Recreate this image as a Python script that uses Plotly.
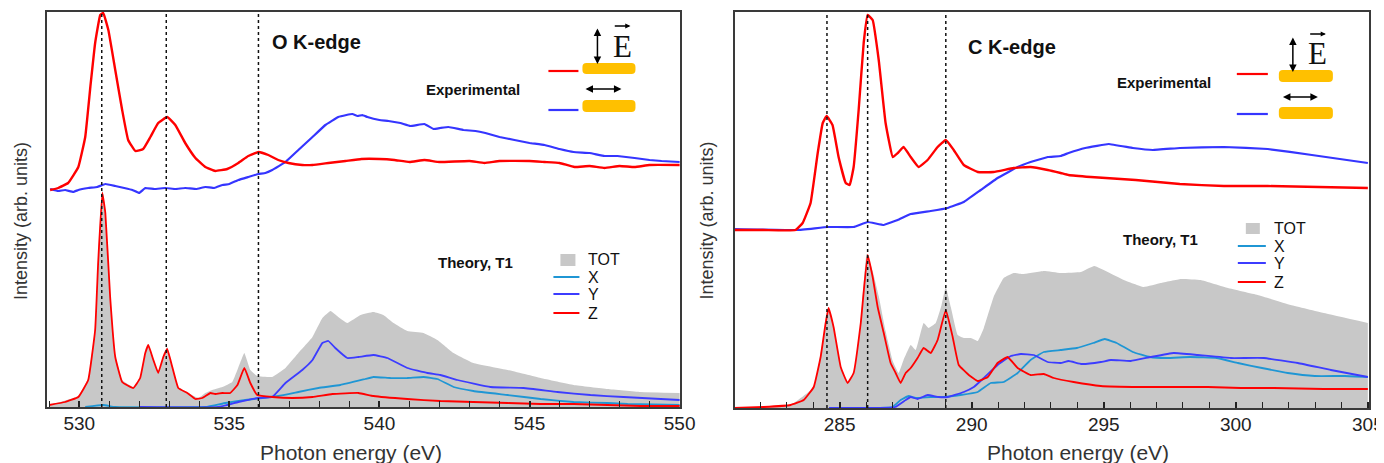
import plotly.graph_objects as go

# Layout helpers: target-picture pixel positions are converted to paper coordinates.
# The page keeps the default 8px body margin; the photographed page is 1400 css px wide.
PIC_W, PAGE_W = 1384, 1400
SX = PAGE_W / PIC_W
OFF = 8
W, H = 1384, 455
FONT = "Liberation Sans, Arial, sans-serif"
SERIF = "Liberation Serif, Times New Roman, serif"

# ---------------- O K-edge (left panel) ----------------
o_exp_red_x = [529.03, 529.3, 529.63, 529.97, 530.2, 530.37, 530.53, 530.7, 530.8, 530.97, 531.2, 531.43, 531.63,
               531.87, 532.13, 532.37, 532.63, 532.93, 533.2, 533.53, 533.87, 534.2, 534.53, 534.93, 535.3, 535.63,
               535.97, 536.3, 536.63, 536.97, 537.43, 537.77, 538.3, 538.87, 539.4, 540.0, 540.5, 541.0, 541.5,
               542.0, 543.0, 543.5, 544.0, 545.0, 545.5, 546.0, 546.5, 547.0, 547.5, 548.0, 548.5, 549.0, 550.0]
o_exp_red_y = [217, 219, 224, 240, 270, 320, 364, 392, 394, 377, 337, 297, 267, 256, 258, 270, 284, 290, 282, 264,
               249, 240, 236, 238, 244, 251, 255, 252, 247, 244, 242, 242, 244, 246, 248, 248, 247, 245, 247, 245,
               246, 244, 246, 246, 245, 244, 240, 241, 239, 241, 240, 242, 242]

o_exp_blue_x = [529.03, 529.3, 529.53, 529.8, 529.97, 530.3, 530.6, 530.87, 531.2, 531.5, 531.77, 532.0, 532.2,
                532.5, 532.87, 533.2, 533.53, 533.9, 534.2, 534.5, 534.77, 535.0, 535.3, 535.63, 535.97, 536.2,
                536.43, 536.87, 537.3, 537.77, 538.2, 538.63, 538.9, 539.1, 539.27, 539.43, 539.6, 540.0, 540.3,
                540.7, 541.03, 541.5, 541.8, 542.03, 542.3, 542.8, 543.2, 543.53, 544.0, 544.5, 545.0, 545.5,
                546.0, 546.47, 547.0, 547.5, 547.93, 548.5, 549.0, 549.4, 550.0]
o_exp_blue_y = [218, 216, 217, 215, 217, 219, 220, 223, 221, 219, 217, 214, 219, 218, 219, 218, 219, 218, 220, 219,
                222, 223, 227, 230, 233, 234, 237, 245, 257, 270, 282, 290, 292, 293, 291, 292, 290, 287, 286, 284,
                281, 283, 278, 279, 280, 277, 276, 274, 270, 267, 264, 262, 258, 255, 254, 251, 251, 249, 247, 246,
                245]

o_tot_x = [529.0, 529.97, 530.3, 530.53, 530.63, 530.77, 530.87, 531.03, 531.2, 531.43, 531.8, 532.03, 532.3,
           532.63, 532.93, 533.1, 533.3, 533.63, 533.97, 534.2, 534.43, 534.77, 535.1, 535.37, 535.5, 535.7,
           535.93, 536.43, 536.87, 537.3, 537.77, 538.1, 538.37, 538.63, 538.93, 539.37, 539.8, 540.13, 540.47,
           540.93, 541.47, 541.93, 542.47, 543.13, 544.27, 545.37, 546.47, 547.6, 548.7, 550.0]
o_tot_y = [2, 11, 29, 80, 150, 217, 197, 112, 52, 27, 20, 30, 63, 34, 60, 41, 20, 14, 9, 14, 17, 20, 25, 45, 54,
           37, 31, 30, 39, 54, 70, 89, 96, 90, 84, 92, 95, 92, 84, 76, 74, 67, 54, 44, 37, 29, 22, 18, 15, 14]

o_z_x = [529.0, 529.53, 529.97, 530.3, 530.53, 530.63, 530.77, 530.87, 531.03, 531.2, 531.43, 531.8, 532.03,
         532.2, 532.3, 532.47, 532.63, 532.8, 532.93, 533.1, 533.3, 533.6, 533.87, 534.1, 534.37, 534.53, 534.77,
         535.03, 535.27, 535.5, 535.7, 535.93, 536.43, 537.1, 537.77, 538.43, 539.3, 539.8, 540.93, 542.03,
         543.13, 544.27, 545.37, 546.47, 547.6, 548.7, 550.0]
o_z_y = [2, 5, 10, 27, 77, 144, 214, 194, 110, 50, 25, 19, 29, 54, 62, 47, 34, 50, 58, 40, 19, 14, 8, 9, 14, 13,
         14, 14, 22, 39, 24, 12, 10, 9, 10, 13, 14, 11, 8, 6, 5, 4, 3, 3, 2, 1, 1]

o_y_x = [532.0, 534.63, 535.3, 535.97, 536.43, 536.87, 537.43, 537.77, 538.1, 538.3, 538.53, 538.93, 539.3, 539.8,
         540.27, 540.93, 541.6, 542.03, 542.6, 543.7, 544.8, 545.93, 547.03, 548.13, 550.0]
o_y_y = [0, 0, 5, 9, 10, 24, 37, 47, 64, 66, 59, 49, 50, 52, 49, 39, 34, 32, 27, 20, 19, 15, 12, 10, 7]

o_x_x = [530.2, 530.8, 531.2, 534.2, 534.87, 535.53, 536.1, 536.63, 537.3, 537.97, 538.7, 539.53, 539.8, 540.37,
         540.93, 541.47, 541.93, 542.47, 543.13, 544.27, 545.37, 546.47, 547.6, 548.27, 550.0]
o_x_y = [0, 2, 0, 0, 4, 7, 9, 11, 15, 19, 22, 28, 30, 29, 29, 30, 28, 20, 16, 12, 8, 5, 4, 3, 2]

# ---------------- C K-edge (right panel) ----------------
c_exp_red_x = [281.0, 282.12, 283.33, 283.6, 283.9, 284.17, 284.36, 284.51, 284.73, 284.96, 285.23, 285.38, 285.53,
               285.72, 285.91, 286.06, 286.25, 286.48, 286.74, 287.01, 287.2, 287.42, 287.69, 287.99, 288.33,
               288.71, 289.02, 289.32, 289.7, 290.23, 290.83, 291.59, 292.23, 292.88, 293.37, 293.67, 294.51,
               296.21, 297.88, 299.55, 301.21, 305.0]
c_exp_red_y = [178, 178, 178, 185, 205, 255, 285, 292, 283, 251, 225, 223, 241, 298, 365, 393, 388, 348, 285, 251,
               255, 261, 251, 241, 248, 261, 268, 258, 243, 236, 236, 240, 241, 238, 235, 233, 231, 228, 224, 222,
               222, 220]

c_exp_blue_x = [281.0, 283.41, 284.55, 285.53, 286.06, 286.67, 287.2, 287.69, 288.45, 289.09, 289.7, 290.34,
                290.98, 291.74, 292.23, 292.88, 293.37, 293.67, 294.3, 295.19, 296.1, 296.86, 297.88, 299.55,
                301.21, 302.88, 305.0]
c_exp_blue_y = [179, 178, 181, 181, 186, 183, 188, 194, 197, 200, 206, 218, 230, 241, 246, 251, 252, 255, 260, 264,
                260, 258, 260, 261, 259, 253, 245]

c_tot_x = [281.0, 283.14, 284.02, 284.47, 284.58, 284.77, 285.04, 285.3, 285.53, 285.8, 286.02, 286.25, 286.48,
           286.74, 287.01, 287.23, 287.42, 287.69, 287.88, 288.18, 288.37, 288.64, 288.86, 289.02, 289.21, 289.47,
           289.7, 289.97, 290.23, 290.46, 290.83, 291.21, 291.59, 291.97, 292.73, 293.37, 294.13, 294.64, 295.15,
           295.76, 296.51, 297.16, 297.92, 298.67, 299.7, 300.83, 302.08, 303.33, 305.0]
c_tot_y = [0, 3, 21, 85, 101, 82, 42, 26, 35, 86, 154, 137, 112, 77, 47, 35, 48, 63, 58, 85, 80, 85, 103, 121, 101,
           73, 70, 70, 67, 80, 111, 130, 135, 134, 137, 135, 136, 142, 136, 128, 121, 125, 129, 128, 120, 113, 103,
           95, 85]

c_z_x = [281.0, 282.12, 283.14, 283.64, 284.02, 284.28, 284.47, 284.58, 284.77, 285.04, 285.3, 285.53, 285.8,
         286.06, 286.25, 286.44, 286.67, 286.93, 287.12, 287.31, 287.5, 287.69, 287.95, 288.18, 288.45, 288.71,
         289.02, 289.28, 289.51, 289.89, 290.23, 290.61, 290.98, 291.36, 291.74, 292.23, 292.73, 293.11, 293.86,
         294.89, 296.4, 297.65, 298.94, 300.19, 301.44, 303.33, 305.0]
c_z_y = [0, 1, 3, 8, 21, 51, 85, 100, 81, 41, 25, 35, 85, 153, 131, 101, 75, 45, 35, 25, 35, 40, 50, 60, 55, 68,
         98, 71, 43, 33, 27, 31, 45, 51, 40, 33, 34, 30, 26, 22, 21, 21, 21, 20, 20, 19, 19]

c_y_x = [284.6, 287.1, 287.5, 287.69, 287.95, 288.33, 288.75, 289.09, 289.7, 290.08, 290.46, 290.98, 291.48,
         291.86, 292.35, 292.88, 293.37, 293.67, 294.17, 294.89, 295.27, 296.02, 296.78, 297.65, 298.56, 299.81,
         301.06, 302.35, 303.6, 305.0]
c_y_y = [0, 1, 8, 11, 9, 13, 11, 11, 16, 21, 30, 43, 52, 54, 53, 46, 45, 47, 44, 46, 48, 47, 51, 55, 53, 50, 50,
         45, 38, 31]

c_x_x = [284.6, 287.0, 287.31, 287.61, 287.88, 288.45, 288.94, 289.58, 290.23, 290.72, 291.21, 291.74, 292.23,
         292.73, 293.37, 293.98, 294.6, 295.04, 295.49, 296.1, 296.75, 297.38, 298.26, 299.28, 300.08, 300.99,
         301.97, 302.99, 304.13, 305.0]
c_x_y = [0, 1, 8, 12, 10, 11, 11, 13, 16, 25, 26, 35, 48, 56, 58, 60, 65, 69, 65, 56, 51, 50, 51, 50, 45, 40, 35,
         32, 32, 31]

# axis settings and marker energies
O_RANGE = [528.93, 550.03]
C_RANGE = [281.02, 305.04]
O_MARKS = [530.75, 532.9, 535.97]
C_MARKS = [284.52, 286.06, 289.02]
O_TICK0, C_TICK0 = 530, 285
LEGEND_LABELS = ["TOT", "X", "Y", "Z"]

RED = "#ff0000"
BLUE_EXP = "#3535ff"
BLUE = "#3c3cff"
CYAN = "#1f96d4"
GRAY = "#c8c8c8"
ORANGE = "#ffc000"

fig = go.Figure()


def add_area(x, y, xa, ya):
    fig.add_trace(go.Scatter(x=x, y=y, mode="lines", fill="tozeroy", fillcolor=GRAY,
                             line=dict(width=0, color=GRAY, shape="spline", smoothing=0.3),
                             xaxis=xa, yaxis=ya, showlegend=False, hoverinfo="skip"))


def add_line(x, y, color, width, xa, ya, smooth=0.3):
    fig.add_trace(go.Scatter(x=x, y=y, mode="lines",
                             line=dict(color=color, width=width, shape="spline", smoothing=smooth),
                             xaxis=xa, yaxis=ya, showlegend=False, hoverinfo="skip"))


panels = [
    ("x", "y", o_tot_x, o_tot_y, o_x_x, o_x_y, o_y_x, o_y_y, o_z_x, o_z_y,
     o_exp_blue_x, o_exp_blue_y, o_exp_red_x, o_exp_red_y),
    ("x2", "y2", c_tot_x, c_tot_y, c_x_x, c_x_y, c_y_x, c_y_y, c_z_x, c_z_y,
     c_exp_blue_x, c_exp_blue_y, c_exp_red_x, c_exp_red_y),
]
for (xa, ya, tx, ty, xx, xy, yx, yy, zx, zy, bx, by, rx, ry) in panels:
    add_area(tx, ty, xa, ya)
    add_line(xx, xy, CYAN, 1.8, xa, ya)
    add_line(yx, yy, BLUE, 1.8, xa, ya)
    add_line(zx, zy, RED, 1.8, xa, ya)
    add_line(bx, by, BLUE_EXP, 2.2, xa, ya, smooth=0.15)
    add_line(rx, ry, RED, 2.4, xa, ya)


# picture-pixel -> paper coordinates
def px(v):
    return (v * SX - OFF) / W


def py(v):
    return 1 - (v - OFF) / H


def txt(s, x, y, size, bold=False, xanchor="center", color="#111", family=FONT, angle=0):
    return dict(text=("<b>%s</b>" % s) if bold else s, x=px(x), y=py(y), xref="paper", yref="paper",
                showarrow=False, xanchor=xanchor, yanchor="middle", textangle=angle,
                font=dict(family=family, size=size, color=color))


def arrow(x1, y1, x0, y0, both=False, size=1.0, width=1.5):
    return dict(x=px(x1), y=py(y1), xref="paper", yref="paper", ax=(x0 - x1) * SX, ay=y0 - y1,
                text="", showarrow=True, arrowhead=2, arrowsize=size, arrowwidth=width, arrowcolor="black",
                arrowside="end+start" if both else "end", standoff=0, startstandoff=0)


def hseg(x0, x1, y, color, width=2.2):
    return dict(type="line", xref="paper", yref="paper", x0=px(x0), x1=px(x1), y0=py(y), y1=py(y),
                line=dict(color=color, width=width), layer="above")


def rrect(x0, y0, x1, y1, r, color):
    pts = (f"M {px(x0 + r)},{py(y0)} L {px(x1 - r)},{py(y0)} Q {px(x1)},{py(y0)} {px(x1)},{py(y0 + r)} "
           f"L {px(x1)},{py(y1 - r)} Q {px(x1)},{py(y1)} {px(x1 - r)},{py(y1)} "
           f"L {px(x0 + r)},{py(y1)} Q {px(x0)},{py(y1)} {px(x0)},{py(y1 - r)} "
           f"L {px(x0)},{py(y0 + r)} Q {px(x0)},{py(y0)} {px(x0 + r)},{py(y0)} Z")
    return dict(type="path", xref="paper", yref="paper", path=pts, fillcolor=color,
                line=dict(width=0), layer="above")


shapes = []
annotations = []

# dotted guide lines
for v in O_MARKS:
    shapes.append(dict(type="line", xref="x", yref="y domain", x0=v, x1=v, y0=0, y1=1,
                       line=dict(color="#111", width=1.5, dash="dot"), layer="above"))
for v in C_MARKS:
    shapes.append(dict(type="line", xref="x2", yref="y2 domain", x0=v, x1=v, y0=0, y1=1,
                       line=dict(color="#111", width=1.5, dash="dot"), layer="above"))

# per-panel decorations (picture-pixel layout positions)
deco = [
    dict(title="O K-edge", tx=316, ty=42, exp=(473, 89), theo=(475, 262),
         lx0=548, lx1=578, ry=71, by=110, bar_x=(582, 635), bar1=(63, 74), bar2=(100, 112),
         varrow=(597, 27, 64), E=(622, 46), Earrow=(613, 630, 26), harrow=(584, 621, 89),
         leg_sq=(560, 575, 254, 266), leg_line=(553, 579), leg_tx=586, leg_y=[259, 277, 294, 313],
         ytitle=(21, 221), xtitle=(351, 452)),
    dict(title="C K-edge", tx=1011, ty=47, exp=(1163, 83), theo=(1160, 240),
         lx0=1236, lx1=1267, ry=74, by=114, bar_x=(1278, 1332), bar1=(70, 82), bar2=(107, 119),
         varrow=(1292, 36, 72), E=(1317, 54), Earrow=(1308, 1325, 34), harrow=(1281, 1317, 97),
         leg_sq=(1245, 1259, 223, 234), leg_line=(1237, 1265), leg_tx=1271, leg_y=[228, 246, 263, 282],
         ytitle=(706, 221), xtitle=(1077, 452)),
]

for d in deco:
    annotations.append(txt(d["title"], d["tx"], d["ty"], 20, bold=True))
    annotations.append(txt("Experimental", d["exp"][0], d["exp"][1], 15, bold=True))
    annotations.append(txt("Theory, T1", d["theo"][0], d["theo"][1], 15, bold=True))
    shapes.append(hseg(d["lx0"], d["lx1"], d["ry"], RED))
    shapes.append(hseg(d["lx0"], d["lx1"], d["by"], BLUE_EXP))
    shapes.append(rrect(d["bar_x"][0], d["bar1"][0], d["bar_x"][1], d["bar1"][1], 4, ORANGE))
    shapes.append(rrect(d["bar_x"][0], d["bar2"][0], d["bar_x"][1], d["bar2"][1], 4, ORANGE))
    vx, vy0, vy1 = d["varrow"]
    annotations.append(arrow(vx, vy1, vx, vy0, both=True, size=1.0))
    hx0, hx1, hy = d["harrow"]
    annotations.append(arrow(hx1, hy, hx0, hy, both=True, size=1.0))
    annotations.append(txt("E", d["E"][0], d["E"][1], 31, family=SERIF, color="#111"))
    ex0, ex1, ey = d["Earrow"]
    annotations.append(arrow(ex1, ey, ex0, ey, size=0.8, width=1.3))
    # theory legend
    sx0, sx1, sy0, sy1 = d["leg_sq"]
    shapes.append(dict(type="rect", xref="paper", yref="paper", x0=px(sx0), x1=px(sx1), y0=py(sy1), y1=py(sy0),
                       fillcolor=GRAY, line=dict(width=0), layer="above"))
    for col, yy in zip([CYAN, BLUE, RED], d["leg_y"][1:]):
        shapes.append(hseg(d["leg_line"][0], d["leg_line"][1], yy, col, width=2))
    for lab, yy in zip(LEGEND_LABELS, d["leg_y"]):
        annotations.append(txt(lab, d["leg_tx"], yy, 16, xanchor="left", color="#111"))
    annotations.append(txt("Intensity (arb. units)", d["ytitle"][0], d["ytitle"][1], 18, angle=-90, color="#333"))
    annotations.append(txt("Photon energy (eV)", d["xtitle"][0], d["xtitle"][1], 21, color="#333"))

axis_common = dict(showline=True, linecolor="#3a3a3a", linewidth=1.5, mirror=True, showgrid=False,
                   zeroline=False, fixedrange=True)
xcommon = dict(dtick=5, ticks="inside", ticklen=6, tickwidth=1.5, tickcolor="#222",
               tickfont=dict(family=FONT, size=19, color="#222"), ticklabelstandoff=-2)

fig.update_layout(
    width=W, height=H, margin=dict(l=0, r=0, t=0, b=0),
    paper_bgcolor="white", plot_bgcolor="white", showlegend=False,
    xaxis=dict(domain=[px(47), px(680)], range=O_RANGE, tick0=O_TICK0, anchor="y",
               minor=dict(dtick=1, tick0=O_TICK0, ticks="inside", ticklen=6, tickwidth=1.2, tickcolor="#222"),
               **xcommon, **axis_common),
    yaxis=dict(domain=[py(407), py(12)], range=[0, 395], showticklabels=False, ticks="",
               anchor="x", **axis_common),
    xaxis2=dict(domain=[px(734), px(1368)], range=C_RANGE, tick0=C_TICK0, anchor="y2",
                minor=dict(dtick=1, tick0=C_TICK0, ticks="inside", ticklen=6, tickwidth=1.2, tickcolor="#222"),
                **xcommon, **axis_common),
    yaxis2=dict(domain=[py(408), py(12)], range=[0, 396], showticklabels=False, ticks="",
                anchor="x2", **axis_common),
    shapes=shapes,
    annotations=annotations,
)

fig.write_html("out.html", config={"displayModeBar": False, "responsive": False})
